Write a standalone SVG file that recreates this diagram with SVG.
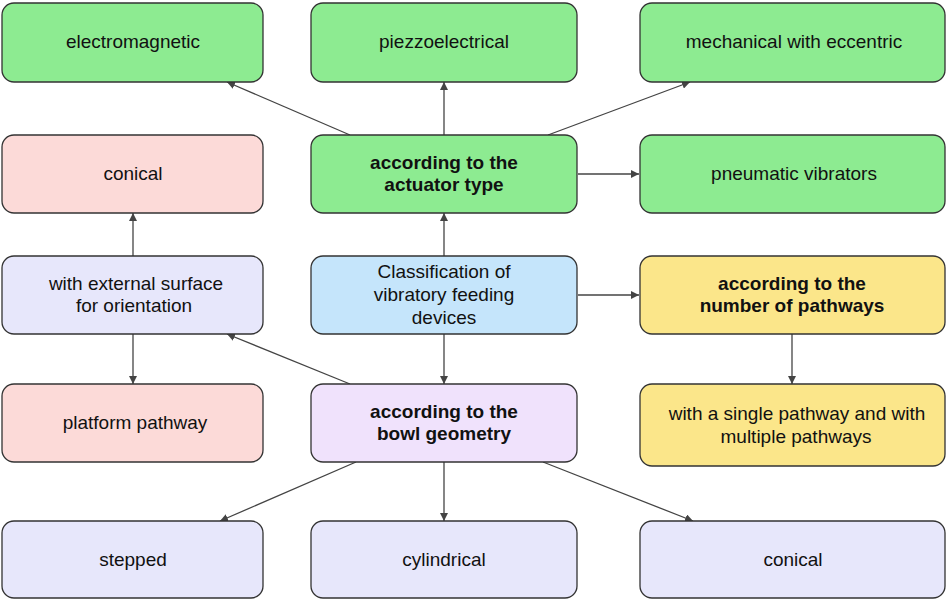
<svg xmlns="http://www.w3.org/2000/svg" width="946" height="599" viewBox="0 0 946 599">
  <style>
    .box { stroke: #333333; stroke-width: 1.3; }
    .green { fill: #8DEB91; }
    .pink { fill: #FCDAD8; }
    .lav { fill: #E7E7FB; }
    .blue { fill: #C5E5FB; }
    .yellow { fill: #FBE68A; }
    .purple { fill: #F0E2FC; }
    text { font-family: "Liberation Sans", Arial, sans-serif; font-size: 19px; fill: #111111; text-anchor: middle; }
    .b { font-weight: bold; }
    .edge { stroke: #444444; stroke-width: 1.3; fill: none; marker-end: url(#arr); }
  </style>
  <defs>
    <marker id="arr" viewBox="0 0 10 10" refX="10" refY="5" markerWidth="8" markerHeight="8" markerUnits="userSpaceOnUse" orient="auto">
      <path d="M0,0 L10,5 L0,10 z" fill="#444444"/>
    </marker>
  </defs>

  <rect width="946" height="599" fill="#ffffff"/>

  <g id="connectors">
    <line class="edge" x1="350" y1="135" x2="227" y2="82"/>
    <line class="edge" x1="444" y1="135" x2="444" y2="82"/>
    <line class="edge" x1="548" y1="135" x2="690" y2="82"/>
    <line class="edge" x1="578" y1="174" x2="639" y2="174"/>
    <line class="edge" x1="444" y1="256" x2="444" y2="213"/>
    <line class="edge" x1="578" y1="295" x2="639" y2="295"/>
    <line class="edge" x1="444" y1="334" x2="444" y2="384"/>
    <line class="edge" x1="792" y1="334" x2="792" y2="384"/>
    <line class="edge" x1="350" y1="384" x2="227" y2="334"/>
    <line class="edge" x1="133" y1="256" x2="133" y2="213"/>
    <line class="edge" x1="133" y1="334" x2="133" y2="384"/>
    <line class="edge" x1="356" y1="462" x2="220" y2="521"/>
    <line class="edge" x1="444" y1="462" x2="444" y2="521"/>
    <line class="edge" x1="543" y1="462" x2="693" y2="521"/>
  </g>

  <g id="electromagnetic">
    <rect class="box green" x="2" y="3" width="261" height="79" rx="12"/>
    <text x="133" y="48">electromagnetic</text>
  </g>
  <g id="piezzoelectrical">
    <rect class="box green" x="311" y="3" width="266" height="79" rx="12"/>
    <text x="444" y="48">piezzoelectrical</text>
  </g>
  <g id="mechanical">
    <rect class="box green" x="640" y="3" width="305" height="79" rx="12"/>
    <text x="794" y="48">mechanical with eccentric</text>
  </g>

  <g id="conical-orientation">
    <rect class="box pink" x="2" y="135" width="261" height="78" rx="12"/>
    <text x="133" y="180">conical</text>
  </g>
  <g id="actuator-type">
    <rect class="box green" x="311" y="135" width="266" height="78" rx="12"/>
    <text class="b" x="444" y="169">according to the</text>
    <text class="b" x="444" y="191">actuator type</text>
  </g>
  <g id="pneumatic">
    <rect class="box green" x="640" y="135" width="305" height="78" rx="12"/>
    <text x="794" y="180">pneumatic vibrators</text>
  </g>

  <g id="external-surface">
    <rect class="box lav" x="2" y="256" width="261" height="78" rx="12"/>
    <text x="136" y="290">with external surface</text>
    <text x="134" y="312">for orientation</text>
  </g>
  <g id="classification">
    <rect class="box blue" x="311" y="256" width="266" height="78" rx="12"/>
    <text x="444" y="278">Classification of</text>
    <text x="444" y="301">vibratory feeding</text>
    <text x="444" y="324">devices</text>
  </g>
  <g id="number-of-pathways">
    <rect class="box yellow" x="640" y="256" width="305" height="78" rx="12"/>
    <text class="b" x="792" y="290">according to the</text>
    <text class="b" x="792" y="312">number of pathways</text>
  </g>

  <g id="platform-pathway">
    <rect class="box pink" x="2" y="384" width="261" height="78" rx="12"/>
    <text x="135" y="429">platform pathway</text>
  </g>
  <g id="bowl-geometry">
    <rect class="box purple" x="311" y="384" width="266" height="78" rx="12"/>
    <text class="b" x="444" y="418">according to the</text>
    <text class="b" x="444" y="440">bowl geometry</text>
  </g>
  <g id="single-multiple">
    <rect class="box yellow" x="640" y="384" width="305" height="82" rx="12"/>
    <text x="797" y="420">with a single pathway and with</text>
    <text x="796" y="443">multiple pathways</text>
  </g>

  <g id="stepped">
    <rect class="box lav" x="2" y="521" width="261" height="77" rx="12"/>
    <text x="133" y="566">stepped</text>
  </g>
  <g id="cylindrical">
    <rect class="box lav" x="311" y="521" width="266" height="77" rx="12"/>
    <text x="444" y="566">cylindrical</text>
  </g>
  <g id="conical-bowl">
    <rect class="box lav" x="640" y="521" width="305" height="77" rx="12"/>
    <text x="793" y="566">conical</text>
  </g>
</svg>
